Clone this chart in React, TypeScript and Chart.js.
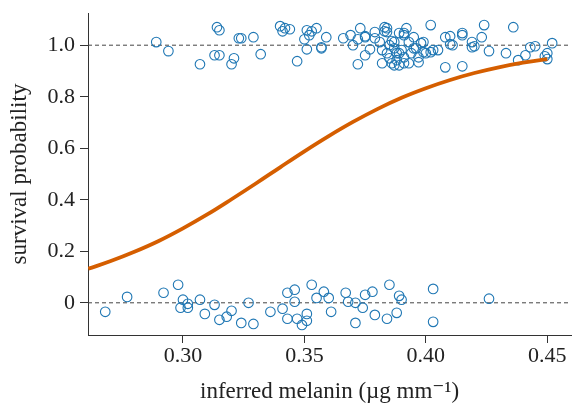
import React, { useEffect, useRef } from "react";
import { Chart, registerables } from "chart.js";

Chart.register(...registerables);

// Survived (jittered around 1)
const survivedX = [
  0.289, 0.294, 0.307, 0.314, 0.315, 0.313, 0.315, 0.320, 0.321, 0.323, 0.324, 0.329, 0.332,
  0.340, 0.341, 0.342, 0.344, 0.347, 0.351, 0.350, 0.351, 0.352, 0.353, 0.355, 0.357, 0.357,
  0.359, 0.366, 0.369, 0.370, 0.372,
  0.373, 0.375, 0.375, 0.372, 0.377, 0.375, 0.379, 0.379, 0.381, 0.383, 0.383, 0.384, 0.382,
  0.384, 0.385, 0.386, 0.387, 0.388, 0.387, 0.387, 0.389, 0.389, 0.391, 0.392, 0.391, 0.390,
  0.391, 0.391, 0.393, 0.394, 0.395, 0.396, 0.397, 0.398, 0.399, 0.399, 0.400, 0.402, 0.403,
  0.405, 0.402, 0.385, 0.382, 0.393, 0.395, 0.389, 0.397, 0.384, 0.386, 0.388,
  0.408, 0.410, 0.408, 0.410, 0.411, 0.415, 0.415, 0.415, 0.419, 0.420, 0.419, 0.423, 0.424,
  0.426, 0.433, 0.436, 0.438, 0.441, 0.443, 0.445, 0.449, 0.450, 0.452, 0.450,
];
const survivedY = [
  1.012, 0.977, 0.926, 1.070, 1.058, 0.961, 0.961, 0.926, 0.949, 1.027, 1.027, 1.031, 0.965,
  1.074, 1.054, 1.066, 1.062, 0.938, 1.058, 1.023, 0.984, 1.039, 1.054, 1.066, 0.988, 0.992,
  1.031, 1.027, 1.039, 1.000, 0.926,
  1.066, 1.031, 1.035, 1.023, 0.984, 0.961, 1.051, 1.027, 1.012, 1.070, 1.054, 1.051, 0.930,
  0.969, 0.949, 0.930, 0.922, 0.942, 1.012, 0.988, 0.969, 1.047, 1.047, 1.066, 1.039, 0.981,
  0.953, 0.930, 0.930, 0.969, 1.031, 0.988, 0.953, 1.008, 1.012, 0.973, 0.969, 0.973, 0.981,
  0.981, 1.078, 1.000, 0.981, 1.012, 0.988, 0.922, 0.934, 1.066, 1.016, 0.969,
  1.031, 1.035, 0.914, 1.004, 1.000, 1.047, 1.039, 0.918, 1.012, 0.996, 0.992, 1.031, 1.078,
  0.977, 0.969, 1.070, 0.942, 0.961, 0.992, 0.996, 0.957, 0.969, 1.008, 0.946,
];

// Died (jittered around 0)
const diedX = [
  0.268, 0.277, 0.292, 0.298, 0.300, 0.299, 0.302, 0.302, 0.307, 0.313, 0.309, 0.315, 0.318,
  0.320, 0.324, 0.329, 0.327, 0.336, 0.341, 0.343, 0.346, 0.346, 0.343, 0.347, 0.349, 0.351,
  0.351, 0.353, 0.355, 0.358, 0.360, 0.361, 0.367, 0.368, 0.371, 0.371, 0.374, 0.375, 0.378,
  0.379, 0.384, 0.385, 0.388, 0.389, 0.390, 0.403, 0.403, 0.426,
];
const diedY = [
  -0.035, 0.023, 0.039, 0.070, 0.012, -0.019, -0.004, -0.019, 0.012, -0.008, -0.043, -0.066, -0.054,
  -0.031, -0.078, -0.082, 0.000, -0.035, -0.023, 0.039, 0.051, 0.004, -0.062, -0.062, -0.086, -0.043,
  -0.070, 0.070, 0.019, 0.043, 0.019, -0.035, 0.039, 0.004, 0.000, -0.078, -0.019, 0.031, 0.043,
  -0.047, -0.062, 0.070, -0.039, 0.027, 0.012, 0.054, -0.074, 0.016,
];

// Fitted survival curve
const curveX = [
  0.261, 0.27, 0.28, 0.29, 0.30, 0.31, 0.32, 0.33, 0.34, 0.35, 0.36, 0.37, 0.38, 0.39, 0.40,
  0.41, 0.42, 0.43, 0.44, 0.45,
];
const curveY = [
  0.132, 0.161, 0.198, 0.240, 0.289, 0.343, 0.402, 0.463, 0.526, 0.588, 0.647, 0.702, 0.752,
  0.796, 0.833, 0.865, 0.892, 0.914, 0.932, 0.946,
];

const xTicks = [0.3, 0.35, 0.4, 0.45];
const yTicks = [0, 0.2, 0.4, 0.6, 0.8, 1.0];
const refLevels = [0, 1];

const X_MIN = 0.2609;
const X_MAX = 0.4598;
const Y_MIN = -0.125;
const Y_MAX = 1.125;

const SERIF = "'Liberation Serif', 'DejaVu Serif', serif";

export default function App() {
  const ref = useRef<HTMLCanvasElement | null>(null);

  useEffect(() => {
    if (!ref.current) return;
    const datasets: any[] = [
      {
        type: "line",
        label: "fit",
        data: curveX.map((x, i) => ({ x, y: curveY[i] })),
        borderColor: "#d55e00",
        borderWidth: 3.8,
        pointRadius: 0,
        tension: 0.4,
        fill: false,
        order: 0,
      },
      {
        type: "scatter",
        label: "survived",
        data: survivedX.map((x, i) => ({ x, y: survivedY[i] })),
        borderColor: "#1f77b4",
        backgroundColor: "rgba(255,255,255,0)",
        pointRadius: 4.8,
        borderWidth: 1.1,
        order: 1,
      },
      {
        type: "scatter",
        label: "died",
        data: diedX.map((x, i) => ({ x, y: diedY[i] })),
        borderColor: "#1f77b4",
        backgroundColor: "rgba(255,255,255,0)",
        pointRadius: 4.8,
        borderWidth: 1.1,
        order: 1,
      },
      ...refLevels.map((lv) => ({
        type: "line",
        label: "ref" + lv,
        data: [
          { x: X_MIN, y: lv },
          { x: X_MAX, y: lv },
        ],
        borderColor: "#444",
        borderWidth: 1,
        borderDash: [4, 3],
        pointRadius: 0,
        fill: false,
        order: 2,
      })),
    ];

    const chart = new Chart(ref.current, {
      type: "scatter",
      data: { datasets },
      options: {
        animation: false,
        responsive: false,
        layout: { padding: { left: 0, right: 1, top: 13, bottom: 0 } },
        plugins: { legend: { display: false }, tooltip: { enabled: false } },
        scales: {
          x: {
            type: "linear",
            min: X_MIN,
            max: X_MAX,
            afterBuildTicks: (s: any) => {
              s.ticks = xTicks.map((v) => ({ value: v }));
            },
            afterFit: (s: any) => {
              s.height = 73;
              s.paddingLeft = 0;
              s.paddingRight = 0;
            },
            border: { display: true, color: "#333", width: 1 },
            grid: { drawOnChartArea: false, drawTicks: true, tickLength: 8, color: "#333" },
            ticks: {
              color: "#222",
              font: { family: SERIF, size: 22 },
              padding: 0,
              callback: (v: any) => Number(v).toFixed(2),
            },
            title: {
              display: true,
              text: "inferred melanin (µg mm⁻¹)",
              color: "#222",
              font: { family: SERIF, size: 23 },
              padding: { top: 0, bottom: 2 },
            },
          },
          y: {
            type: "linear",
            min: Y_MIN,
            max: Y_MAX,
            afterBuildTicks: (s: any) => {
              s.ticks = yTicks.map((v) => ({ value: v }));
            },
            afterFit: (s: any) => {
              s.width = 88;
              s.paddingTop = 0;
              s.paddingBottom = 0;
            },
            border: { display: true, color: "#333", width: 1 },
            grid: { drawOnChartArea: false, drawTicks: true, tickLength: 8, color: "#333" },
            ticks: {
              color: "#222",
              font: { family: SERIF, size: 22 },
              padding: 5,
              callback: (v: any) => (Number(v) === 0 ? "0" : Number(v).toFixed(1)),
            },
            title: {
              display: true,
              text: "survival probability",
              color: "#222",
              font: { family: SERIF, size: 23 },
              padding: { top: 6, bottom: 0 },
            },
          },
        },
      },
    });
    return () => chart.destroy();
  }, []);

  return (
    <div style={{ position: "fixed", left: 0, top: 0, width: 577, height: 408, background: "#fff" }}>
      <canvas ref={ref} width={577} height={408} style={{ width: 577, height: 408 }} />
    </div>
  );
}
